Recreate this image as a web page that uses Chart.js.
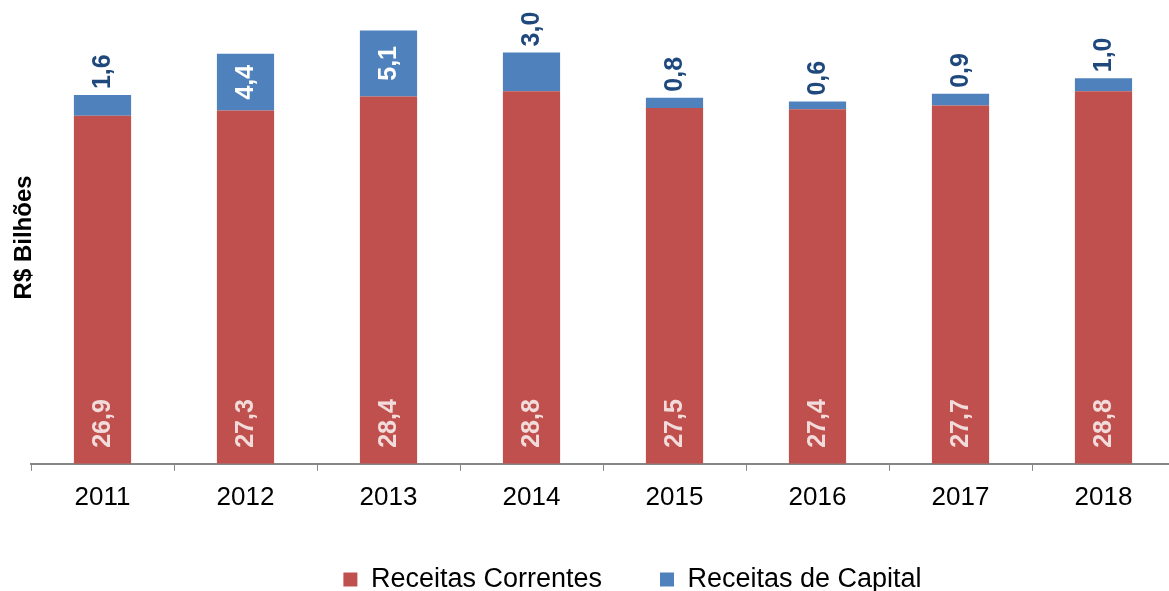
<!DOCTYPE html>
<html>
<head>
<meta charset="utf-8">
<script src="https://cdn.jsdelivr.net/npm/chart.js@4/dist/chart.umd.min.js"></script>
<style>
  html, body { margin: 0; padding: 0; background: #fff; overflow: hidden; }
  #wrap { width: 1175px; height: 591px; }
</style>
</head>
<body>
<div id="wrap"><canvas id="canvas"></canvas></div>
<script>
var years = ['2011', '2012', '2013', '2014', '2015', '2016', '2017', '2018'];
var correntes = [26.9, 27.3, 28.4, 28.8, 27.5, 27.4, 27.7, 28.8];
var capital = [1.6, 4.4, 5.1, 3.0, 0.8, 0.6, 0.9, 1.0];

var FONT = '"Liberation Sans", Arial, sans-serif';

function fmt(v) {
    return v.toFixed(1).replace('.', ',');
}

// rotated value labels, like the excel original
var barLabels = {
    id: 'barLabels',
    afterLayout: function(chart) {
        // legend sits a bit right of centre in the original
        chart.legend.left += 45;
        chart.legend.right += 45;
    },
    afterDatasetsDraw: function(chart) {
        var ctx = chart.ctx;
        ctx.save();
        ctx.font = 'bold 25px ' + FONT;
        ctx.textBaseline = 'middle';
        chart.data.datasets.forEach(function(ds, i) {
            var meta = chart.getDatasetMeta(i);
            meta.data.forEach(function(bar, j) {
                var txt = fmt(ds.data[j]);
                var w = ctx.measureText(txt).width;
                var x = bar.x, y, color, align = 'left';
                if (i === 0) {
                    y = bar.base - 16;
                    color = '#F2DCDB';
                } else {
                    var h = bar.base - bar.y;
                    if (h > w + 12) {
                        y = bar.y + h / 2;
                        align = 'center';
                        color = '#ffffff';
                    } else {
                        y = bar.y - 6;
                        color = '#1F497D';
                    }
                }
                ctx.save();
                ctx.translate(x + 1, y);
                ctx.rotate(-Math.PI / 2);
                ctx.textAlign = align;
                ctx.fillStyle = color;
                ctx.fillText(txt, 0, 0);
                ctx.restore();
            });
        });
        ctx.restore();
    }
};

var config = {
    type: 'bar',
    data: {
        labels: years,
        datasets: [
            {
                label: 'Receitas Correntes',
                backgroundColor: '#C0504D',
                data: correntes
            }, {
                label: 'Receitas de Capital',
                backgroundColor: '#4F81BD',
                data: capital
            }]
    },
    options: {
        responsive: true,
        maintainAspectRatio: false,
        animation: false,
        layout: { padding: { top: 11, left: 0, right: 0, bottom: -12 } },
        datasets: { bar: { barPercentage: 0.4, categoryPercentage: 1 } },
        plugins: {
            tooltip: { enabled: false },
            legend: {
                position: 'bottom',
                labels: {
                    color: '#000',
                    font: { family: FONT, size: 27 },
                    boxWidth: 14,
                    boxHeight: 14,
                    padding: 58
                }
            }
        },
        scales: {
            x: {
                stacked: true,
                grid: {
                    display: true,
                    drawOnChartArea: false,
                    offset: true,
                    tickLength: 7,
                    color: '#868686'
                },
                border: { display: true, color: '#868686', width: 2 },
                ticks: { color: '#000', font: { family: FONT, size: 26 }, padding: 11 },
                afterFit: function(s) { s.height -= 16; }
            },
            y: {
                stacked: true,
                min: 0,
                max: 35,
                grid: { display: false },
                border: { display: false },
                ticks: { display: false },
                title: {
                    display: true,
                    text: 'R$ Bilhões',
                    color: '#000',
                    font: { family: FONT, size: 24, weight: 'bold' },
                    padding: { top: 10, bottom: 0 }
                },
                afterFit: function(s) { s.width = 31; }
            }
        }
    },
    plugins: [barLabels]
};

window.onload = function() {
    var ctx = document.getElementById('canvas').getContext('2d');
    window.myBar = new Chart(ctx, config);
};
</script>
</body>
</html>
